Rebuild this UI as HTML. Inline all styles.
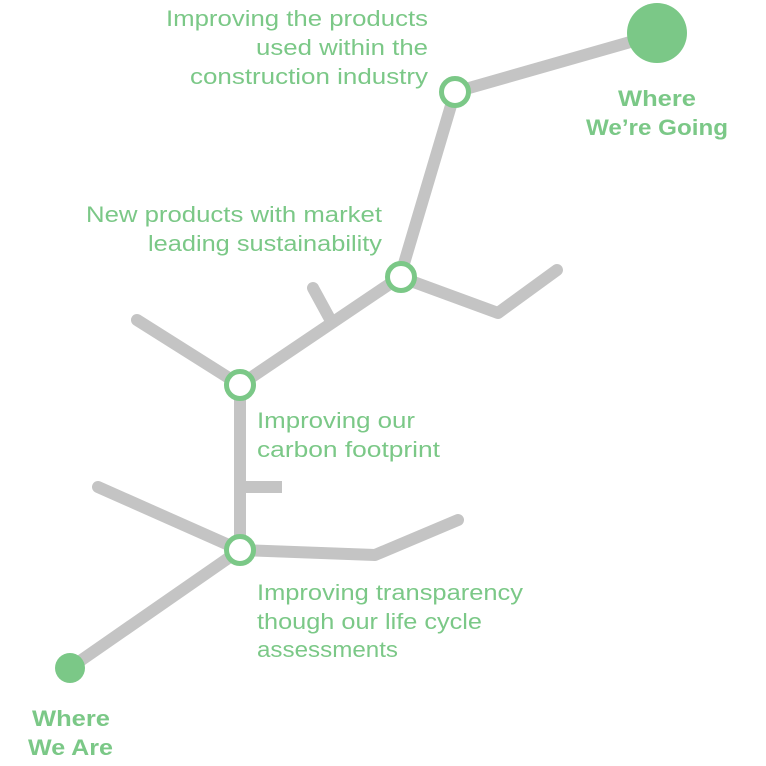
<!DOCTYPE html>
<html><head><style>html,body{margin:0;padding:0;background:#fff}svg{display:block}</style></head>
<body>
<svg width="766" height="766" viewBox="0 0 766 766" xmlns="http://www.w3.org/2000/svg">
<g stroke="#c4c4c4" stroke-width="12" fill="none" stroke-linecap="round" stroke-linejoin="round">
<polyline points="70,668 240,550 240,385"/>
<polyline points="240,550 375,555 458,520"/>
<line x1="240" y1="550" x2="98" y2="487"/>
<line x1="240" y1="487" x2="282" y2="487" stroke-linecap="butt"/>
<line x1="240" y1="385" x2="137" y2="320"/>
<polyline points="240,385 400,277 455,92 655,35"/>
<line x1="331" y1="321" x2="313" y2="288"/>
<polyline points="400,277 498,313 557,270"/>
</g>
<g fill="#fff" stroke="#7bc887" stroke-width="5">
<circle cx="455" cy="92" r="13.5"/>
<circle cx="401" cy="277" r="13.5"/>
<circle cx="240" cy="385" r="13.5"/>
<circle cx="240" cy="550" r="13.5"/>
</g>
<circle cx="70" cy="668" r="15" fill="#7bc887"/>
<circle cx="657" cy="33" r="30" fill="#7bc887"/>
<g font-family="Liberation Sans, sans-serif" font-size="22" fill="#7bc887" lengthAdjust="spacingAndGlyphs">
<text x="166" y="26" textLength="262" lengthAdjust="spacingAndGlyphs">Improving the products</text>
<text x="256" y="55" textLength="172" lengthAdjust="spacingAndGlyphs">used within the</text>
<text x="190" y="84" textLength="238" lengthAdjust="spacingAndGlyphs">construction industry</text>
<text x="86" y="222" textLength="296" lengthAdjust="spacingAndGlyphs">New products with market</text>
<text x="148" y="251" textLength="234" lengthAdjust="spacingAndGlyphs">leading sustainability</text>
<text x="257" y="428" textLength="158" lengthAdjust="spacingAndGlyphs">Improving our</text>
<text x="257" y="457" textLength="183" lengthAdjust="spacingAndGlyphs">carbon footprint</text>
<text x="257" y="600" textLength="266" lengthAdjust="spacingAndGlyphs">Improving transparency</text>
<text x="257" y="629" textLength="225" lengthAdjust="spacingAndGlyphs">though our life cycle</text>
<text x="257" y="657" textLength="141" lengthAdjust="spacingAndGlyphs">assessments</text>
<g font-weight="bold">
<text x="618" y="106" textLength="78" lengthAdjust="spacingAndGlyphs">Where</text>
<text x="586" y="135" textLength="142" lengthAdjust="spacingAndGlyphs">We’re Going</text>
<text x="32" y="726" textLength="78" lengthAdjust="spacingAndGlyphs">Where</text>
<text x="28" y="755" textLength="85" lengthAdjust="spacingAndGlyphs">We Are</text>
</g>
</g>
</svg>
</body></html>
